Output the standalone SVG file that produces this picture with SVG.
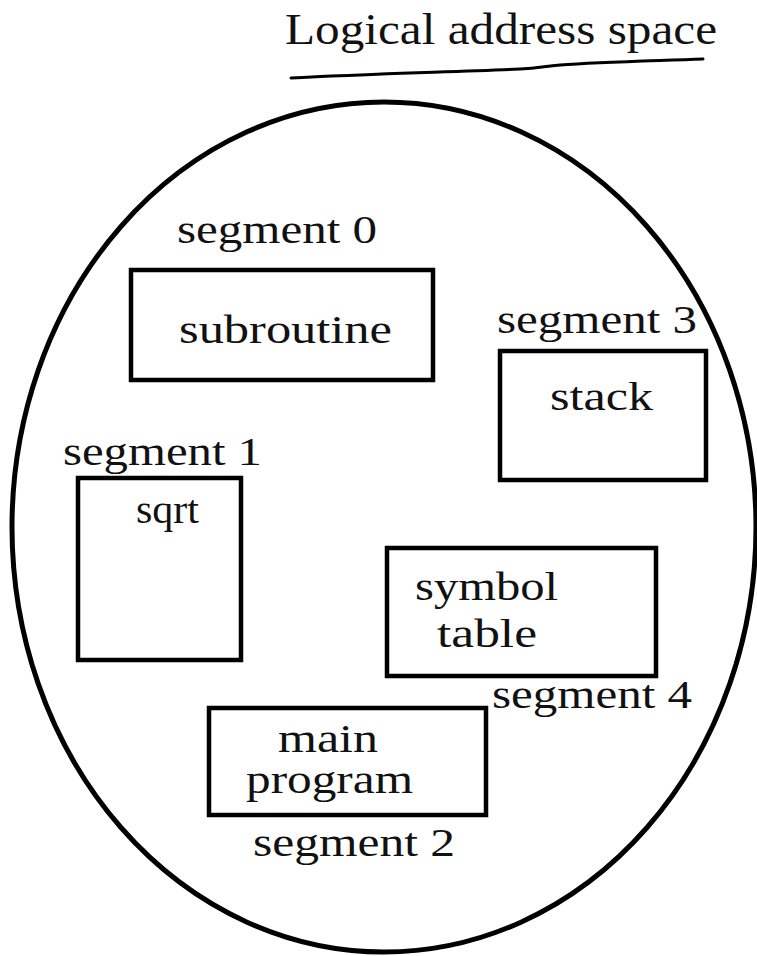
<svg xmlns="http://www.w3.org/2000/svg" width="757" height="956" viewBox="0 0 757 956">
  <style>
    .box { fill: none; stroke: #000; stroke-width: 4.5; }
    .outline { fill: none; stroke: #000; stroke-width: 5; }
  </style>
  <rect width="757" height="956" fill="#fff"/>

  <!-- heading with hand-drawn underline -->
  <g id="title">
    <text font-family="Liberation Serif" font-size="44" fill="#111" x="285" y="44" textLength="432" lengthAdjust="spacingAndGlyphs">Logical address space</text>
    <path d="M291,78 C360,74 450,72 520,69 C540,68 545,66 560,65 C600,62 650,61 703,59" fill="none" stroke="#000" stroke-width="3" stroke-linecap="round"/>
  </g>

  <!-- address space boundary -->
  <g id="space">
    <ellipse class="outline" cx="384" cy="527" rx="372" ry="425"/>
  </g>

  <g font-family="Liberation Serif, serif" font-size="40" fill="#111">
  <g id="seg0">
    <text x="177" y="243" textLength="200" lengthAdjust="spacingAndGlyphs">segment 0</text>
    <rect class="box" x="131" y="270" width="302" height="110"/>
    <text x="179" y="343" textLength="213" lengthAdjust="spacingAndGlyphs">subroutine</text>
  </g>

  <g id="seg3">
    <text x="497" y="333" textLength="200" lengthAdjust="spacingAndGlyphs">segment 3</text>
    <rect class="box" x="500" y="351" width="206" height="129"/>
    <text x="550" y="410" textLength="103" lengthAdjust="spacingAndGlyphs">stack</text>
  </g>

  <g id="seg1">
    <text x="63" y="465" textLength="199" lengthAdjust="spacingAndGlyphs">segment 1</text>
    <rect class="box" x="78" y="478" width="163" height="182"/>
    <text x="136" y="523" textLength="63" lengthAdjust="spacingAndGlyphs">sqrt</text>
  </g>

  <g id="seg4">
    <rect class="box" x="387" y="548" width="269" height="128"/>
    <text x="415" y="600" textLength="143" lengthAdjust="spacingAndGlyphs">symbol</text>
    <text x="437" y="647" textLength="100" lengthAdjust="spacingAndGlyphs">table</text>
    <text x="492" y="708" textLength="200" lengthAdjust="spacingAndGlyphs">segment 4</text>
  </g>

  <g id="seg2">
    <rect class="box" x="209" y="708" width="277" height="107"/>
    <text x="278" y="752" textLength="100" lengthAdjust="spacingAndGlyphs">main</text>
    <text x="246" y="793" textLength="167" lengthAdjust="spacingAndGlyphs">program</text>
    <text x="253" y="856" textLength="202" lengthAdjust="spacingAndGlyphs">segment 2</text>
  </g>
  </g>
</svg>
